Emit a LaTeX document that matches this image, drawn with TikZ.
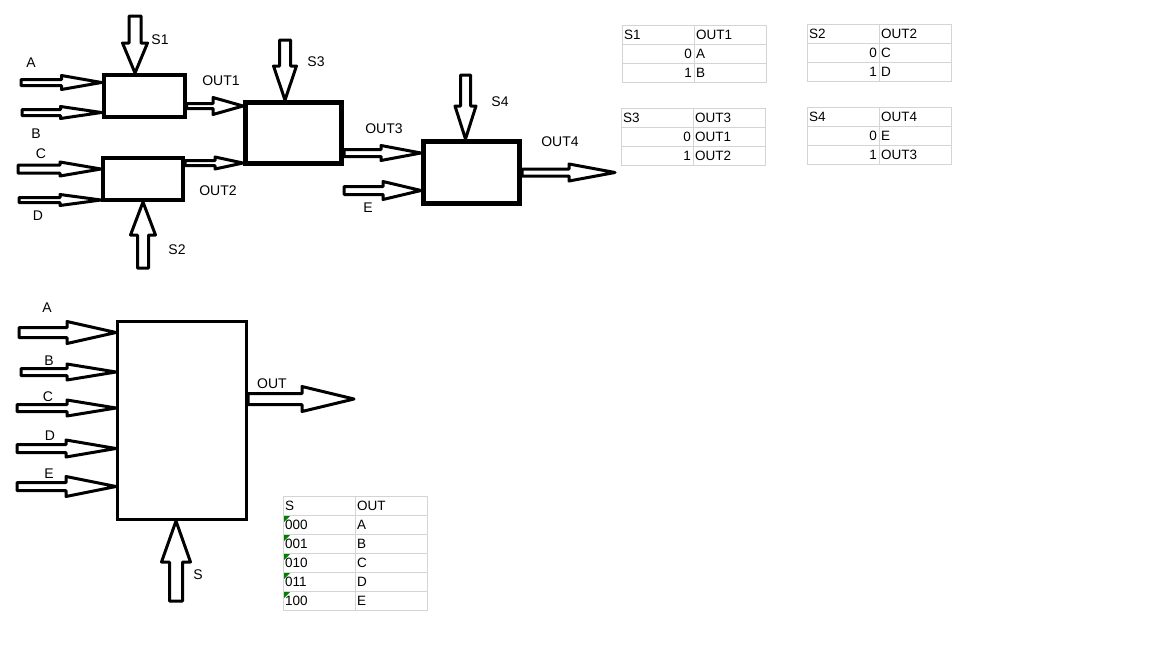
\documentclass[tikz,border=0pt]{standalone}
\usepackage{fontspec}
\setmainfont{Liberation Sans}
\usetikzlibrary{calc,positioning}

\begin{document}
\begin{tikzpicture}[x=1pt,y=-1pt,
  mux/.style={draw, rectangle, inner sep=0pt},
  lbl/.style={font=\fontsize{14}{16}\selectfont, inner sep=0pt},
  cell/.style={draw=black!17, line width=1pt},
  celltxt/.style={font=\fontsize{13.5}{15}\selectfont, inner sep=0pt},
  fat/.style n args={3}{line width=3pt, line join=round, to path={
    ($(\tikztostart)!#1!90:(\tikztotarget)$)
    -- ($($(\tikztotarget)!#3!(\tikztostart)$)!#1!90:(\tikztotarget)$)
    -- ($($(\tikztotarget)!#3!(\tikztostart)$)!#2!90:(\tikztotarget)$)
    -- (\tikztotarget)
    -- ($($(\tikztotarget)!#3!(\tikztostart)$)!#2!-90:(\tikztotarget)$)
    -- ($($(\tikztotarget)!#3!(\tikztostart)$)!#1!-90:(\tikztotarget)$)
    -- ($(\tikztostart)!#1!-90:(\tikztotarget)$)
    -- cycle}}
]
\fill[white] (0,0) rectangle (1152,648);
\useasboundingbox (0,0) rectangle (1152,648);

% Cascade of 2-to-1 multiplexers
\node[mux, line width=4pt, minimum width=81, minimum height=42] (m1) at (144,96) {};
\node[mux, line width=4pt, minimum width=80, minimum height=42] (m2) at (143,179) {};
\node[mux, line width=5pt, minimum width=96, minimum height=61] (m3) at (293.5,133) {};
\node[mux, line width=5pt, minimum width=96, minimum height=62] (m4) at (471.5,172.5) {};

\node[lbl] (lA) at (31,63) {A};
\node[lbl] (lB) at (36,134) {B};
\node[lbl] (lC) at (41,154) {C};
\node[lbl] (lD) at (38,216) {D};
\node[lbl] (lS1) at (160,40) {S1};
\node[lbl] (lS2) at (177,250) {S2};
\node[lbl] (lS3) at (316,62) {S3};
\node[lbl] (lS4) at (500,102) {S4};
\node[lbl] (lE) at (368,208) {E};
\node[lbl] (lO1) at (221,81) {OUT1};
\node[lbl] (lO2) at (218,191) {OUT2};
\node[lbl] (lO3) at (384,129) {OUT3};
\node[lbl] (lO4) at (560,142) {OUT4};

\coordinate (s1) at (135,16);
\coordinate (s2) at (143,268);
\coordinate (s3) at (285,40);
\coordinate (s4) at (465.5,75);
\coordinate (inA) at (21,82.5);
\coordinate (inB) at (22,112.5);
\coordinate (inC) at (18,169);
\coordinate (inD) at (19,200);
\coordinate (inE) at (344,190.5);
\coordinate (o1) at ($(m1.east)+(0,10)$);
\coordinate (o2) at ($(m2.east)+(0,-16)$);
\coordinate (o3) at ($(m3.east)+(0,20)$);
\coordinate (out4) at (615,172.5);

\draw[fat={6pt}{12.5pt}{30pt}] (s1) to (s1 |- m1.north);
\draw[fat={5.5pt}{12.5pt}{33pt}] (s2) to (s2 |- m2.south);
\draw[fat={5.5pt}{11.5pt}{34pt}] (s3) to (s3 |- m3.north);
\draw[fat={5pt}{10.5pt}{33pt}] (s4) to (s4 |- m4.north);
\draw[fat={3pt}{7pt}{40pt}] (inA) to (m1.west |- inA);
\draw[fat={3pt}{6pt}{41pt}] (inB) to (m1.west |- inB);
\draw[fat={4pt}{7pt}{41pt}] (inC) to (m2.west |- inC);
\draw[fat={2.5pt}{5.5pt}{41pt}] (inD) to (m2.west |- inD);
\draw[fat={2.5pt}{8.5pt}{30pt}] (o1) to (m3.west |- o1);
\draw[fat={2.5pt}{6pt}{28pt}] (o2) to (m3.west |- o2);
\draw[fat={3.5pt}{7.5pt}{40pt}] (o3) to (m4.west |- o3);
\draw[fat={4pt}{9pt}{38pt}] (inE) to (m4.west |- inE);
\draw[fat={3.5pt}{8.5pt}{46pt}] (m4.east) to (out4);

% Single 5-to-1 multiplexer
\node[mux, line width=3pt, minimum width=129, minimum height=198] (big) at (182,420.5) {};

\node[lbl] (bl-A) at (47,308) {A};
\node[lbl] (bl-B) at (49,361) {B};
\node[lbl] (bl-C) at (48,397) {C};
\node[lbl] (bl-D) at (50,436) {D};
\node[lbl] (bl-E) at (49,474) {E};
\node[lbl] (bl-out) at (272,384) {OUT};
\node[lbl] (bl-S) at (198,575) {S};

\coordinate (bA) at (19,332.5);
\coordinate (bB) at (21,372);
\coordinate (bC) at (17,408);
\coordinate (bD) at (17,448.5);
\coordinate (bE) at (17,486.5);
\coordinate (bS) at (176,601);
\coordinate (bOut) at (354,399);

\draw[fat={5pt}{11pt}{49pt}] (bA) to (big.west |- bA);
\draw[fat={3.5pt}{8pt}{49pt}] (bB) to (big.west |- bB);
\draw[fat={3.5pt}{8pt}{49pt}] (bC) to (big.west |- bC);
\draw[fat={4pt}{8.5pt}{50pt}] (bD) to (big.west |- bD);
\draw[fat={4pt}{10pt}{50pt}] (bE) to (big.west |- bE);
\draw[fat={6.5pt}{14.5pt}{41pt}] (bS) to (bS |- big.south);
\draw[fat={5.5pt}{12.5pt}{52pt}] (big.east |- bOut) to (bOut);

% Selection tables
\foreach \tx/\ty/\ha/\hb/\va/\vb [count=\k] in
  {622/25/S1/OUT1/A/B, 807/24/S2/OUT2/C/D,
   621/108/S3/OUT3/OUT1/OUT2, 807/107/S4/OUT4/E/OUT3} {
  \draw[cell] (\tx,\ty) rectangle ++(144,57)
    (\tx+72,\ty) -- ++(0,57)
    (\tx,\ty+19) -- ++(144,0)
    (\tx,\ty+38) -- ++(144,0);
  \node[celltxt, anchor=west] (t\k-h1) at (\tx+2,\ty+10) {\ha};
  \node[celltxt, anchor=west] (t\k-h2) at (\tx+74,\ty+10) {\hb};
  \node[celltxt, anchor=east] (t\k-s0) at (\tx+70,\ty+29) {0};
  \node[celltxt, anchor=west] (t\k-v0) at (\tx+74,\ty+29) {\va};
  \node[celltxt, anchor=east] (t\k-s1) at (\tx+70,\ty+48) {1};
  \node[celltxt, anchor=west] (t\k-v1) at (\tx+74,\ty+48) {\vb};
}

\draw[cell] (283,496) rectangle (427,610) (355,496) -- (355,610);
\foreach \r in {1,...,5} {
  \draw[cell] (283,496+19*\r) -- (427,496+19*\r);
  \fill[green!50!black] (284,497+19*\r) -- ++(6,0) -- ++(-6,6) -- cycle;
}
\node[celltxt, anchor=west] (ts-h1) at (285,506) {S};
\node[celltxt, anchor=west] (ts-h2) at (357,506) {OUT};
\foreach \code/\val [count=\r] in {000/A, 001/B, 010/C, 011/D, 100/E} {
  \node[celltxt, anchor=west] (ts-s\r) at (285,506+19*\r) {\code};
  \node[celltxt, anchor=west] (ts-v\r) at (357,506+19*\r) {\val};
}
\end{tikzpicture}
\end{document}
